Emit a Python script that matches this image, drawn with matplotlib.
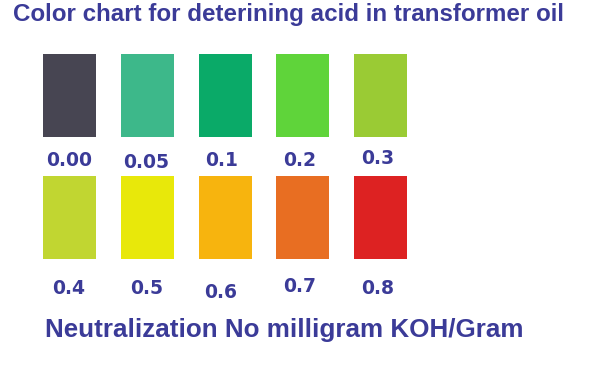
import matplotlib
matplotlib.use("Agg")
import matplotlib.pyplot as plt

title = "Color chart for deterining acid in transformer oil"
footer = "Neutralization No milligram KOH/Gram"
labels_row1 = ["0.00", "0.05", "0.1", "0.2", "0.3"]
labels_row2 = ["0.4", "0.5", "0.6", "0.7", "0.8"]
colors_row1 = ["#474552", "#3db88a", "#0aaa68", "#5fd43a", "#9acb34"]
colors_row2 = ["#c1d631", "#e8e80a", "#f7b40e", "#e86e22", "#dd2222"]
# small vertical offsets of the labels as seen in the picture (px)
label_dy_row1 = [0, 3, 0, 0, -2]
label_dy_row2 = [0, 1, 4, -1, 1]

W, H = 589, 387
fig = plt.figure(figsize=(W / 100, H / 100), dpi=100)
ax = fig.add_axes([0, 0, 1, 1])
ax.set_xlim(0, W)
ax.set_ylim(H, 0)
ax.axis("off")

text_color = "#3b3b98"
col_left = 43
col_step = 77.8
sw_w = 53
rows = [
    (labels_row1, colors_row1, label_dy_row1, 54, 83, 160),
    (labels_row2, colors_row2, label_dy_row2, 176, 83, 288),
]
label_x_offsets = [-0.5, -1, -4, -3, -3]
for labels, colors, dys, top, h, ly in rows:
    xs = [col_left + i * col_step + sw_w / 2 for i in range(len(labels))]
    ax.bar(xs, [h] * len(labels), bottom=top, width=sw_w, color=colors,
           edgecolor="none")
    for x, lab, dy, dx in zip(xs, labels, dys, label_x_offsets):
        ax.text(x + dx, ly + dy, lab, ha="center", va="center",
                fontsize=13.5, fontweight="heavy", color=text_color,
                family=["DejaVu Sans"])

ax.text(288.5, 15, title, ha="center", va="center", fontsize=17.4,
        fontweight="bold", color=text_color, family=["Liberation Sans"])
ax.text(284, 330, footer, ha="center", va="center", fontsize=18.7,
        fontweight="bold", color=text_color, family=["Liberation Sans"])

fig.savefig("out.png", dpi=100)
